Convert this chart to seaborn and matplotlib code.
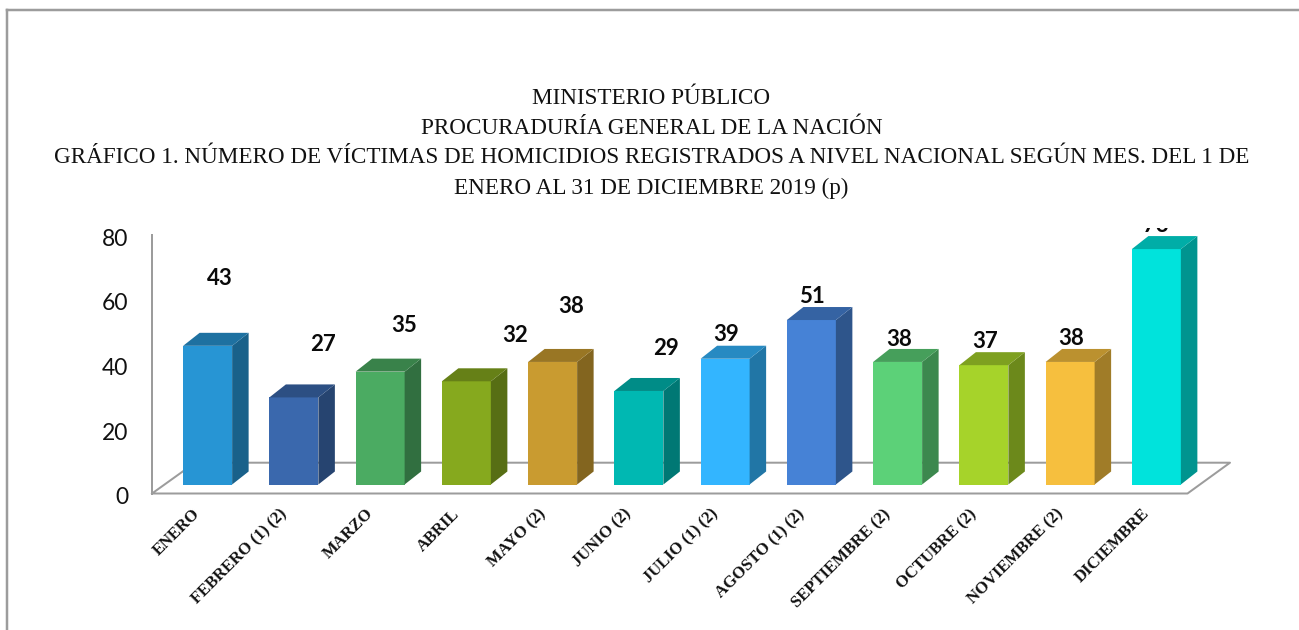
import matplotlib
matplotlib.use("Agg")
import matplotlib.pyplot as plt
import seaborn as sns
import pandas as pd
from matplotlib.colors import to_rgb
from matplotlib.lines import Line2D
from matplotlib.patches import Polygon
from matplotlib.transforms import Affine2D, IdentityTransform, Bbox

months = ["ENERO", "FEBRERO (1) (2)", "MARZO", "ABRIL", "MAYO (2)", "JUNIO (2)",
          "JULIO (1) (2)", "AGOSTO (1) (2)", "SEPTIEMBRE (2)", "OCTUBRE (2)",
          "NOVIEMBRE (2)", "DICIEMBRE"]
victims = [43, 27, 35, 32, 38, 29, 39, 51, 38, 37, 38, 73]
bar_colors = ["#2795D4", "#3A68AD", "#4BAB62", "#86A91E", "#C99B30", "#00B8B2",
              "#33B5FF", "#4682D6", "#5CD178", "#A6D32A", "#F6BF3E", "#00E3DC"]
title_lines = ["MINISTERIO PÚBLICO", "PROCURADURÍA GENERAL DE LA NACIÓN",
               "GRÁFICO 1. NÚMERO DE VÍCTIMAS DE HOMICIDIOS REGISTRADOS A NIVEL NACIONAL SEGÚN MES. DEL 1 DE",
               "ENERO AL 31 DE DICIEMBRE 2019 (p)"]
# manual data-label offsets from each bar's top centre (pixels)
label_dx = [12.5, 29, 24, 49, 19, 27, 1, 1, 1.5, 1, 1, 0]
label_dy = [67, 53, 46, 46, 55, 42, 24, 24, 22.5, 24, 23.5, 24]

W, H = 1299, 630
GRAY = "#9C9C9C"
sns.set_theme(style="white")
plt.rcParams["font.family"] = ["Lato", "DejaVu Sans"]
fig = plt.figure(figsize=(W / 100, H / 100), dpi=100, facecolor="white")
L, R, B, T = 152, 1187, 493.5, 235.5
ax = fig.add_axes([L / W, 1 - B / H, (R - L) / W, (B - T) / H], zorder=5)
df = pd.DataFrame({"mes": months, "n": victims})
sns.barplot(data=df, x="mes", y="n", hue="mes", palette=bar_colors, dodge=False,
            legend=False, width=0.568, saturation=1, ax=ax, zorder=3)
ax.set_xlim(-0.5, 11.5)
ax.set_ylim(0, 80)
ax.set_xlabel("")
ax.set_ylabel("")
ax.set_yticks([0, 20, 40, 60, 80])
ax.tick_params(axis="y", length=0, pad=17, labelsize=16.5, labelcolor="#111111")
ax.tick_params(axis="x", length=0, pad=13)
ax.set_xticks(range(len(months)))
ax.set_xticklabels(months, rotation=45, ha="right", va="center", rotation_mode="anchor",
                   family="Liberation Serif", fontweight="bold", fontsize=12, color="#111111")
for s in ax.spines.values():
    s.set_visible(False)
for lab in ax.get_yticklabels():
    lab.set_transform(lab.get_transform() + Affine2D().translate(0, -2))
for lab in ax.get_xticklabels():
    lab.set_transform(lab.get_transform() + Affine2D().translate(3, 0))

bar_tf = ax.transData + Affine2D().translate(12.5, 9)
dx = 16.5 / ((R - L) / 12)
dy = 13 / ((B - T) / 80)
bars = [p for p in ax.patches if p.get_height() > 0]
for p, col in zip(bars, bar_colors):
    p.set_transform(bar_tf)
    p.set_clip_on(False)
    p.set_linewidth(0)
    x0, w, h = p.get_x(), p.get_width(), p.get_height()
    rgb = to_rgb(col)
    side = tuple(c * 0.65 for c in rgb)
    top = tuple(c * 0.76 for c in rgb)
    ax.add_patch(Polygon([(x0 + w, 0), (x0 + w + dx, dy), (x0 + w + dx, h + dy), (x0 + w, h)],
                         closed=True, fc=side, ec="none", transform=bar_tf, clip_on=False, zorder=3))
    ax.add_patch(Polygon([(x0, h), (x0 + dx, h + dy), (x0 + w + dx, h + dy), (x0 + w, h)],
                         closed=True, fc=top, ec="none", transform=bar_tf, clip_on=False, zorder=3))

clip = Bbox.from_extents(0, 0, W, H - 227.5)
for p, v, ox, oy in zip(bars, victims, label_dx, label_dy):
    cx = p.get_x() + p.get_width() / 2
    t = ax.annotate(str(v), xy=(cx, v), xycoords=bar_tf, xytext=(ox * 0.72, oy * 0.72),
                    textcoords="offset points", ha="center", va="center",
                    fontsize=16, fontweight="bold", color="#0A0A0A", zorder=5,
                    annotation_clip=False)
    t.set_clip_box(clip)
    t.set_clip_on(True)

def px_line(xs, ys, lw=2.0, z=1):
    fig.add_artist(Line2D(xs, [H - y for y in ys], transform=IdentityTransform(),
                          color=GRAY, lw=lw * 0.72, zorder=z, solid_capstyle="projecting"))

# Floor and axis wall
ax.patch.set_alpha(0)
px_line([152, 152], [235, 493.5])
px_line([152, 1187.5, 1230, 195, 152], [493.5, 493.5, 462.7, 462.7, 493.5])
# Outer chart frame
px_line([7, 7], [630, 10], lw=2.5)
px_line([7, 1299], [10, 10], lw=2.5)

for txt, y in zip(title_lines, [98.5, 128.5, 157.5, 188.5]):
    fig.text(651.5 / W, 1 - y / H, txt, ha="center", va="center",
             family="Liberation Serif", fontsize=16.7, color="#111111")

fig.savefig("out.png", dpi=100, facecolor="white")
